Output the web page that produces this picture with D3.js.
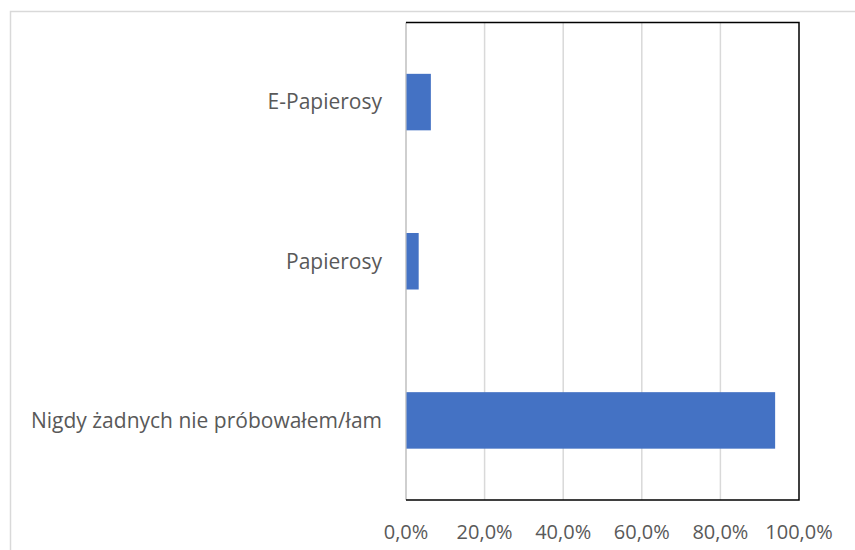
<!DOCTYPE html>
<html>
<head>
<meta charset="utf-8">
<script src="https://cdn.jsdelivr.net/npm/d3@7"></script>
<style>
  body { margin: 0; background: #fff; }
  text { font-family: "Open Sans", sans-serif; fill: #595959; }
</style>
</head>
<body>
<div id="chart"></div>
<script>
const categories = ['E-Papierosy', 'Papierosy', 'Nigdy żadnych nie próbowałem/łam'];
const values = [0.062, 0.031, 0.938];
const ticks = [0, 0.2, 0.4, 0.6, 0.8, 1.0];

const width = 855;
const height = 550;
const margin = { top: 22.5, right: 56, bottom: 50, left: 406 };

const svg = d3.select('#chart')
    .append('svg')
    .attr('width', width)
    .attr('height', height);

// outer chart frame (cropped on right and bottom)
svg.append('path')
    .attr('d', `M10.5,${height} V11.5 H${width}`)
    .attr('fill', 'none')
    .attr('stroke', '#d9d9d9')
    .attr('stroke-width', 1.5);

const x = d3.scaleLinear()
    .domain([0, 1])
    .range([margin.left, width - margin.right]);

const y = d3.scaleBand()
    .domain(categories)
    .range([margin.top, height - margin.bottom])
    .paddingInner(0.645)
    .paddingOuter(0.3225);

// gridlines
svg.append('g')
    .selectAll('line')
    .data(ticks.slice(1, -1))
    .enter()
    .append('line')
    .attr('x1', d => x(d))
    .attr('x2', d => x(d))
    .attr('y1', margin.top)
    .attr('y2', height - margin.bottom)
    .attr('stroke', '#d9d9d9')
    .attr('stroke-width', 1.5);

// left axis line
svg.append('line')
    .attr('x1', x(0)).attr('x2', x(0))
    .attr('y1', margin.top).attr('y2', height - margin.bottom)
    .attr('stroke', '#bfbfbf')
    .attr('stroke-width', 1.5);

svg.append('g')
    .selectAll('rect')
    .data(values)
    .enter()
    .append('rect')
    .attr('x', x(0) + 0.5)
    .attr('y', (d, i) => y(categories[i]))
    .attr('width', d => x(d) - x(0))
    .attr('height', y.bandwidth())
    .attr('fill', '#4472c4');

// black border top and right / bottom
svg.append('path')
    .attr('d', `M${x(0)},${margin.top} H${x(1)} V${height - margin.bottom} H${x(0)}`)
    .attr('fill', 'none')
    .attr('stroke', '#000')
    .attr('stroke-width', 1.5);

// category labels
svg.append('g')
    .selectAll('text')
    .data(categories)
    .enter()
    .append('text')
    .attr('x', 382)
    .attr('y', d => y(d) + y.bandwidth() / 2)
    .attr('dy', '0.35em')
    .attr('text-anchor', 'end')
    .style('font-size', '21px')
    .text(d => d);

// x tick labels
const fmt = d => (d * 100).toFixed(1).replace('.', ',') + '%';
svg.append('g')
    .selectAll('text')
    .data(ticks)
    .enter()
    .append('text')
    .attr('x', d => x(d))
    .attr('y', 539)
    .attr('text-anchor', 'middle')
    .style('font-size', '20px')
    .text(fmt);
</script>
</body>
</html>
